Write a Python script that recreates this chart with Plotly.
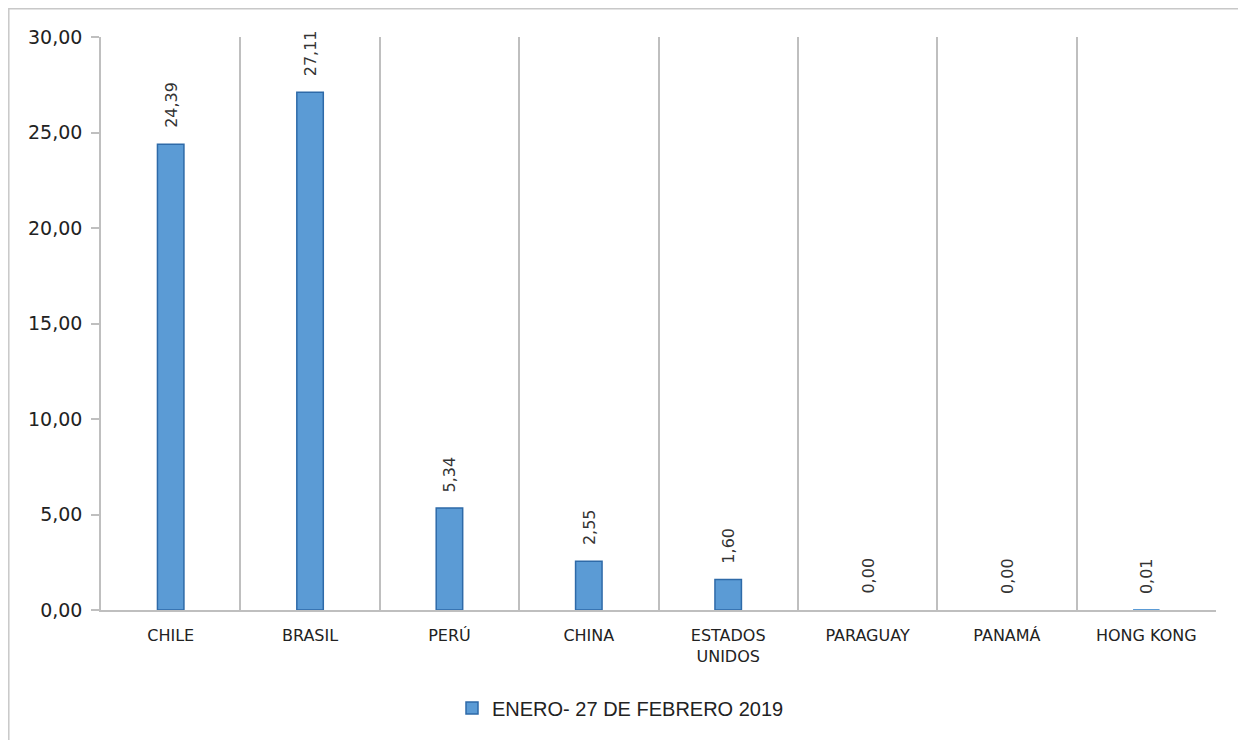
import plotly.graph_objects as go

categories = ["CHILE", "BRASIL", "PERÚ", "CHINA", "ESTADOS<br>UNIDOS", "PARAGUAY", "PANAMÁ", "HONG KONG"]
values = [24.39, 27.11, 5.34, 2.55, 1.60, 0.00, 0.00, 0.01]
series_name = "ENERO- 27 DE FEBRERO 2019"

labels = [f"{v:.2f}".replace(".", ",") for v in values]
line_widths = [1.5 if v >= 0.5 else 0 for v in values]

fig = go.Figure()
fig.add_trace(go.Bar(
    x=categories, y=values, name=series_name,
    marker=dict(color="#5B9BD5", line=dict(color="#2E6AA8", width=line_widths)),
    width=0.19, showlegend=True,
))

for c, v, t in zip(categories, values, labels):
    fig.add_annotation(x=c, y=v, text=t, textangle=-90, showarrow=False,
                       xanchor="center", yanchor="bottom", yshift=14,
                       font=dict(family="DejaVu Sans", size=16, color="#333333"))

# page body has an 8px margin; work in reference pixel coords and shift
OFF = 8
W, H = 1246 - OFF, 740 - OFF
L, R, T, B = 101 - OFF, 1246 - 1216, 37 - OFF, 740 - 610
pw, ph = W - L - R, H - T - B

def px(x):
    return (x - OFF - L) / pw

def py(y):
    return (H - B - (y - OFF)) / ph

fig.add_shape(type="rect", xref="paper", yref="paper",
              x0=px(8.8), x1=px(1245), y0=py(760), y1=py(8.8),
              line=dict(color="#C8C8C8", width=1.5), layer="below")

fig.update_layout(
    width=W, height=H,
    margin=dict(l=L, r=R, t=T, b=B, pad=0),
    paper_bgcolor="white", plot_bgcolor="white",
    separators=",.",
    font=dict(family="DejaVu Sans", color="#222222"),
    showlegend=True,
    legend=dict(orientation="h", x=px(452), xanchor="left",
                yref="container", y=(H - (708 - OFF)) / H, yanchor="middle",
                font=dict(size=20, family="Liberation Sans Narrow, Liberation Sans", color="#222222"),
                itemwidth=30),
)
fig.update_xaxes(
    type="category", tickson="boundaries", range=[-0.5, 7.5],
    showgrid=True, gridcolor="#BFBFBF", gridwidth=1.5,
    showline=True, linecolor="#BFBFBF", linewidth=2,
    ticks="", ticklabelstandoff=10,
    tickfont=dict(family="DejaVu Sans", size=16, color="#222222"),
)
fig.update_yaxes(
    range=[0, 30], dtick=5, tickformat=".2f",
    showgrid=False, zeroline=False,
    showline=True, linecolor="#BFBFBF", linewidth=1.5,
    ticks="outside", ticklen=8, tickcolor="#BFBFBF", tickwidth=1.5,
    ticklabelstandoff=5,
    tickfont=dict(family="DejaVu Sans", size=19, color="#222222"),
)

fig.write_html("out.html")
